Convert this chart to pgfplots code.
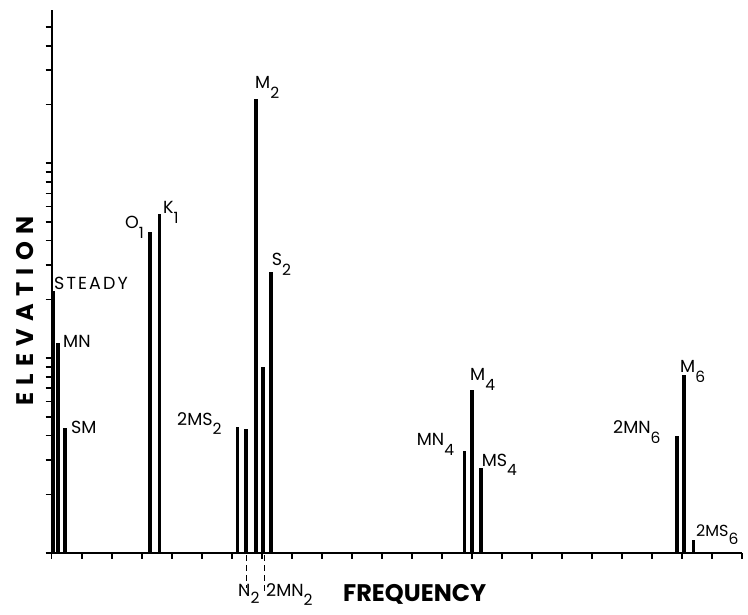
\documentclass[border=0pt]{standalone}
\usepackage{fontspec}
\setmainfont{Poppins}
\usepackage{pgfplots}
\pgfplotsset{compat=1.18}
\newcommand{\lab}{\fontsize{17.5}{17.5}\selectfont}
\newcommand{\sub}[1]{\raisebox{-0.55em}{\fontsize{15.5}{15.5}\selectfont #1}}
\begin{document}
\begin{tikzpicture}[x=1pt,y=1pt]
\begin{axis}[at={(0,0)}, anchor=south west, scale only axis,
  width=690pt, height=543pt,
  xmin=0, xmax=23, ymode=log, ymin=1, ymax=610,
  axis x line=bottom, axis y line=left,
  axis line style={-, line width=1.8pt},
  xtick={0,1,...,23},
  ytick={1,2,3,4,5,6,7,8,9,10,20,30,40,50,60,70,80,90,100,200,300,400,500},
  xticklabels={}, yticklabels={}, minor tick num=0,
  tick align=outside, major tick length=6pt,
  tick style={line width=1.6pt, black},
  clip=false]
\addplot[ycomb, line width=3.8pt, black, mark=none] coordinates {
  (0.05,22) (0.22,12.0) (0.44,4.39)
  (3.28,44.1) (3.59,54.6)
  (6.19,4.44) (6.475,4.31) (6.82,212) (7.04,8.96) (7.32,27.7)
  (13.76,3.35) (14.02,6.85) (14.30,2.72)
  (20.84,3.98) (21.08,8.18)
};
\addplot[ycomb, line width=2.8pt, black, mark=none] coordinates {(21.38,1.166)};
\end{axis}
% dashed leaders below the axis
\draw[line width=1pt, dash pattern=on 6pt off 4pt] (194.3,-2) -- (194.3,-35);
\draw[line width=1pt, dash pattern=on 6pt off 4pt] (212.8,-2) -- (212.8,-39);
% labels
\begin{scope}[every node/.style={inner sep=0pt, font=\lab}]
\node[anchor=base west, font=\lab\addfontfeatures{LetterSpace=12}] at (2.3,263) {STEADY};
\node[anchor=base west] at (11.3,205) {MN};
\node[anchor=base west] at (19.3,120) {SM};
\node[anchor=base west] at (73.3,324) {O\sub{1}};
\node[anchor=base west] at (111.3,339) {K\sub{1}};
\node[anchor=base west] at (203.3,464) {M\sub{2}};
\node[anchor=base west] at (220,287) {S\sub{2}};
\node[anchor=base west] at (125.3,128) {2MS\sub{2}};
\node[anchor=base west] at (365,107) {MN\sub{4}};
\node[anchor=base west] at (418.3,172) {M\sub{4}};
\node[anchor=base west] at (430,87) {MS\sub{4}};
\node[anchor=base west] at (561.3,119) {2MN\sub{6}};
\node[anchor=base west] at (628.3,180) {M\sub{6}};
\node[anchor=base west, font=\fontsize{16}{16}\selectfont] at (644.3,17) {2MS\sub{6}};
\node[anchor=base west] at (186.3,-43) {N\raisebox{-0.45em}{\fontsize{15.5}{15.5}\selectfont 2}};
\node[anchor=base west] at (214.3,-43) {2MN\sub{2}};
\end{scope}
\node[anchor=base west, inner sep=0pt, font=\fontsize{24}{24}\selectfont\bfseries] at (291.3,-48) {FREQUENCY};
\node[anchor=center, inner sep=0pt, rotate=90, font=\fontsize{24}{24}\selectfont\bfseries\addfontfeatures{LetterSpace=30}] at (-26.7,242) {ELEVATION};
\pgfresetboundingbox
\useasboundingbox (-51.7,-61) rectangle (696.3,553);
\end{tikzpicture}
\end{document}
